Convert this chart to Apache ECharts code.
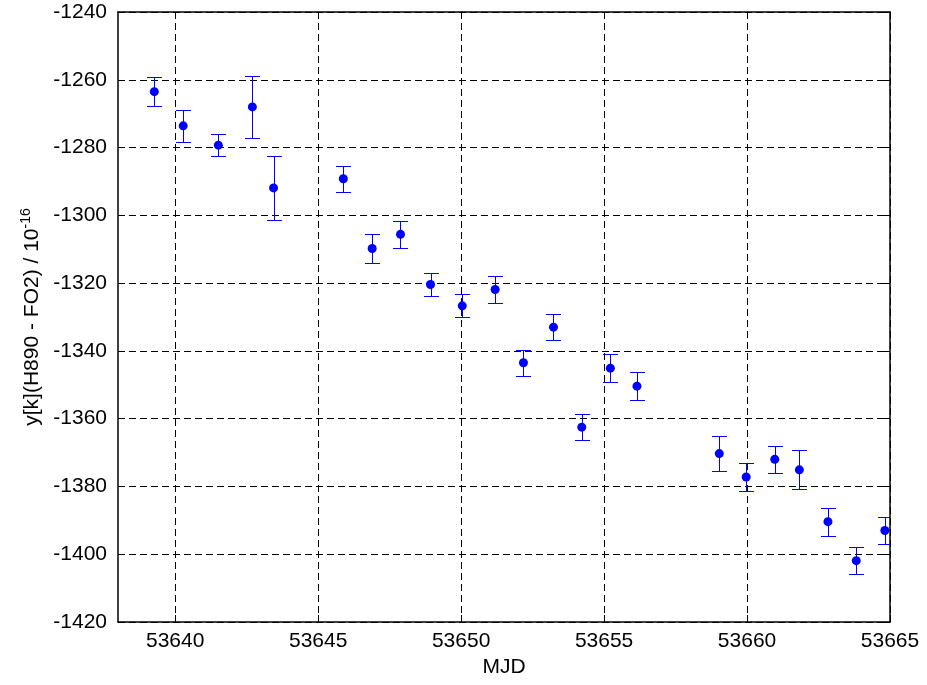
<!DOCTYPE html>
<html>
<head>
<meta charset="utf-8">
<script src="https://cdn.jsdelivr.net/npm/echarts@6/dist/echarts.min.js"></script>
<style>
html,body{margin:0;padding:0;background:#fff;}
#chart{width:927px;height:685px;}
</style>
</head>
<body>
<div id="chart"></div>
<script>
// Data
const mjd = [53639.27, 53640.28, 53641.51, 53642.70, 53643.44, 53645.88, 53646.89, 53647.88, 53648.93, 53650.04, 53651.19, 53652.18, 53653.23, 53654.22, 53655.22, 53656.15, 53659.03, 53659.97, 53660.97, 53661.83, 53662.83, 53663.82, 53664.82];
const yValues = [-1263.5, -1273.6, -1279.3, -1268.0, -1291.9, -1289.2, -1309.8, -1305.6, -1320.4, -1326.7, -1321.9, -1343.5, -1333.0, -1362.5, -1345.1, -1350.4, -1370.3, -1377.2, -1372.0, -1375.1, -1390.4, -1401.9, -1393.0];
const yErr = [4.2, 4.7, 3.2, 9.2, 9.5, 3.9, 4.2, 3.9, 3.4, 3.4, 3.9, 3.9, 3.9, 3.9, 4.2, 4.2, 5.1, 4.0, 4.0, 5.8, 4.1, 3.9, 4.0];
const xTicks = [53640, 53645, 53650, 53655, 53660, 53665];
const xMin = 53638, xMax = 53665;
const yMin = -1420, yMax = -1240, yStep = 20;

const FONT = 'Liberation Sans, Arial, sans-serif';
const FS = 21;
const BLUE = '#0000ff';
const chart = echarts.init(document.getElementById('chart'), null, {renderer: 'canvas'});

const gridLine = {show: true, lineStyle: {color: '#000', width: 1, type: [7, 4]}};
const axisLine = {show: true, lineStyle: {color: '#000', width: 1.5}};

const option = {
  backgroundColor: '#fff',
  animation: false,
  grid: {left: 118, right: 37, top: 12, bottom: 63, containLabel: false},
  xAxis: [{
    type: 'value', position: 'bottom', min: xMin, max: xMax,
    name: 'MJD', nameLocation: 'middle', nameGap: 33,
    nameTextStyle: {fontFamily: FONT, fontSize: FS, color: '#000'},
    axisLine: axisLine,
    axisTick: {show: true, inside: true, length: 7, customValues: xTicks, lineStyle: {color: '#000'}},
    axisLabel: {show: true, customValues: xTicks, margin: 9, fontFamily: FONT, fontSize: FS, color: '#000', formatter: v => String(v)},
    splitLine: gridLine
  }, {
    type: 'value', position: 'top', min: xMin, max: xMax,
    axisLine: axisLine,
    axisTick: {show: true, inside: true, length: 7, customValues: xTicks, lineStyle: {color: '#000'}},
    axisLabel: {show: false},
    splitLine: {show: false}
  }],
  yAxis: [{
    type: 'value', position: 'left', min: yMin, max: yMax, interval: yStep,
    name: '{a|y[k](H890 - FO2) / 10}{s|-16}', nameLocation: 'middle', nameGap: 72,
    nameTextStyle: {
      fontFamily: FONT, fontSize: FS, color: '#000',
      rich: {
        a: {fontFamily: FONT, fontSize: FS, color: '#000', lineHeight: 26},
        s: {fontFamily: FONT, fontSize: 14, color: '#000', lineHeight: 12, verticalAlign: 'top'}
      }
    },
    axisLine: axisLine,
    axisTick: {show: true, inside: true, length: 7, lineStyle: {color: '#000'}},
    axisLabel: {show: true, margin: 11, fontFamily: FONT, fontSize: FS, color: '#000', formatter: v => String(v)},
    splitLine: gridLine
  }, {
    type: 'value', position: 'right', min: yMin, max: yMax, interval: yStep,
    axisLine: axisLine,
    axisTick: {show: true, inside: true, length: 7, lineStyle: {color: '#000'}},
    axisLabel: {show: false},
    splitLine: {show: false}
  }],
  series: [{
    type: 'custom',
    xAxisIndex: 0, yAxisIndex: 0,
    clip: true,
    z: 2,
    itemStyle: {color: BLUE, opacity: 1},
    data: mjd.map((m, i) => [m, yValues[i], yErr[i]]),
    encode: {x: 0, y: 1},
    renderItem: function (params, api) {
      const x = api.value(0), y = api.value(1), e = api.value(2);
      const top = api.coord([x, y + e]);
      const bot = api.coord([x, y - e]);
      const cx = Math.round(top[0]) + 0.5;
      const ty = Math.round(top[1]) + 0.5, by = Math.round(bot[1]) + 0.5;
      const hw = 7.5;
      const st = {stroke: BLUE, lineWidth: 1, opacity: 1};
      return {
        type: 'group',
        children: [
          {type: 'line', shape: {x1: cx, y1: ty, x2: cx, y2: by}, style: st},
          {type: 'line', shape: {x1: cx - hw, y1: ty, x2: cx + hw, y2: ty}, style: st},
          {type: 'line', shape: {x1: cx - hw, y1: by, x2: cx + hw, y2: by}, style: st}
        ]
      };
    }
  }, {
    type: 'scatter',
    xAxisIndex: 0, yAxisIndex: 0,
    z: 3,
    symbol: 'circle', symbolSize: 9,
    itemStyle: {color: BLUE, opacity: 1},
    data: mjd.map((m, i) => [m, yValues[i]])
  }]
};
chart.setOption(option);
</script>
</body>
</html>
